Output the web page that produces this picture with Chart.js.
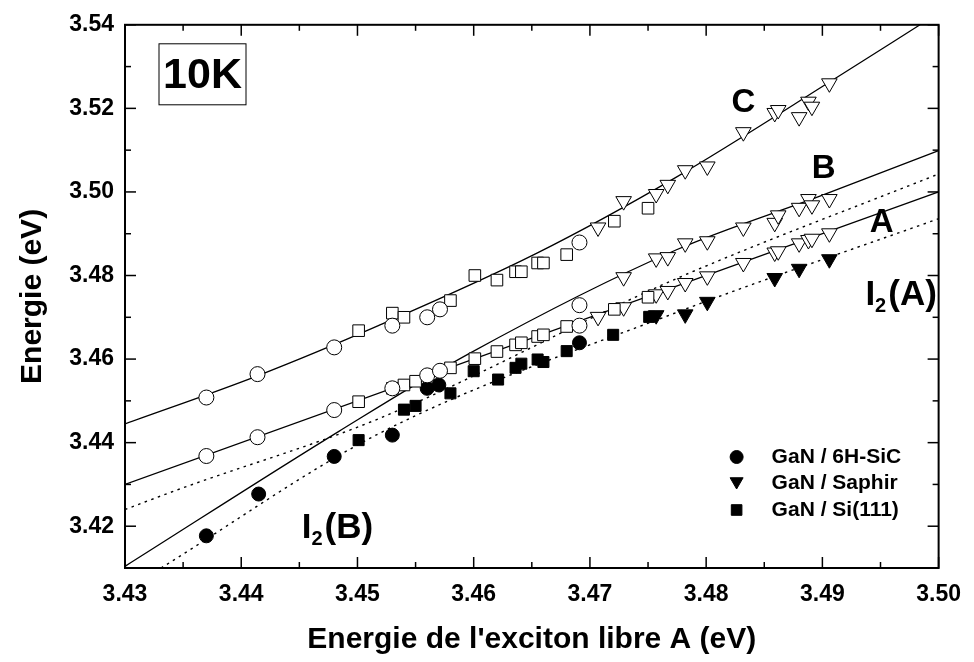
<!DOCTYPE html>
<html>
<head>
<meta charset="utf-8">
<script src="https://cdn.jsdelivr.net/npm/chart.js@4.4.1/dist/chart.umd.min.js"></script>
<style>
  html, body { margin: 0; padding: 0; background: #fff; }
  #wrap { width: 974px; height: 662px; }
</style>
</head>
<body>
<div id="wrap"><canvas id="excitonChart" width="974" height="662"></canvas></div>
<script>
// axis ticks
const xTicks = [3.43, 3.44, 3.45, 3.46, 3.47, 3.48, 3.49, 3.50];
const xMinorTicks = [3.435, 3.445, 3.455, 3.465, 3.475, 3.485, 3.495];
const yTicks = [3.42, 3.44, 3.46, 3.48, 3.50, 3.52, 3.54];
const yMinorTicks = [3.43, 3.45, 3.47, 3.49, 3.51, 3.53];

// free excitons, GaN / 6H-SiC (open circles)
const sicA_x = [3.4370, 3.4414, 3.4480, 3.4530, 3.4560, 3.4571, 3.4691];
const sicA_y = [3.4368, 3.4413, 3.4478, 3.4530, 3.4561, 3.4572, 3.4680];
const sicB_x = [3.4691];
const sicB_y = [3.4729];
const sicC_x = [3.4370, 3.4414, 3.4480, 3.4530, 3.4560, 3.4571, 3.4691];
const sicC_y = [3.4508, 3.4564, 3.4628, 3.4680, 3.4700, 3.4719, 3.4879];

// free excitons, GaN / Si(111) (open squares)
const siA_x = [3.4501, 3.4530, 3.4540, 3.4550, 3.4580, 3.4601, 3.4620, 3.4636, 3.4641, 3.4655, 3.4660, 3.4680, 3.4721, 3.4750];
const siA_y = [3.4498, 3.4530, 3.4538, 3.4547, 3.4579, 3.4601, 3.4618, 3.4634, 3.4639, 3.4654, 3.4658, 3.4678, 3.4719, 3.4748];
const siC_x = [3.4501, 3.4530, 3.4540, 3.4580, 3.4601, 3.4620, 3.4636, 3.4641, 3.4655, 3.4660, 3.4680, 3.4721, 3.4750];
const siC_y = [3.4668, 3.4710, 3.4700, 3.4740, 3.4800, 3.4789, 3.4809, 3.4809, 3.4830, 3.4830, 3.4850, 3.4930, 3.4961];

// free excitons, GaN / Saphir (open triangles)
const sapA_x = [3.4707, 3.4729, 3.4757, 3.4767, 3.4782, 3.4801, 3.4832, 3.4859, 3.4862, 3.4880, 3.4888, 3.4891, 3.4906];
const sapA_y = [3.4701, 3.4724, 3.4755, 3.4763, 3.4782, 3.4798, 3.4830, 3.4855, 3.4858, 3.4877, 3.4885, 3.4888, 3.4901];
const sapB_x = [3.4729, 3.4757, 3.4767, 3.4782, 3.4801, 3.4832, 3.4859, 3.4862, 3.4880, 3.4888, 3.4891, 3.4906];
const sapB_y = [3.4796, 3.4841, 3.4844, 3.4877, 3.4882, 3.4915, 3.4926, 3.4944, 3.4962, 3.4983, 3.4968, 3.4983];
const sapC_x = [3.4707, 3.4729, 3.4757, 3.4767, 3.4782, 3.4801, 3.4832, 3.4859, 3.4862, 3.4880, 3.4888, 3.4891, 3.4906];
const sapC_y = [3.4915, 3.4978, 3.4995, 3.5017, 3.5052, 3.5061, 3.5143, 3.5189, 3.5196, 3.5179, 3.5216, 3.5204, 3.5260];

// bound excitons I2 (filled)
const sicI2_x = [3.4370, 3.4415, 3.4480, 3.4530, 3.4560, 3.4570, 3.4691];
const sicI2_y = [3.4177, 3.4277, 3.4367, 3.4418, 3.4530, 3.4538, 3.4639];
const sapI2_x = [3.4757, 3.4782, 3.4801, 3.4859, 3.4880, 3.4906];
const sapI2_y = [3.4705, 3.4707, 3.4737, 3.4794, 3.4816, 3.4839];
const siI2_x = [3.4501, 3.4540, 3.4550, 3.4580, 3.4600, 3.4621, 3.4636, 3.4641, 3.4655, 3.4660, 3.4680, 3.4720, 3.4751];
const siI2_y = [3.4406, 3.4479, 3.4488, 3.4518, 3.4571, 3.4551, 3.4579, 3.4589, 3.4599, 3.4593, 3.4619, 3.4658, 3.4701];

// fitted curves
const fitA_x = [3.4300, 3.5000];
const fitA_y = [3.4300, 3.5000];
const fitB_x = [3.4300, 3.4484, 3.4596, 3.4774, 3.4899, 3.5000];
const fitB_y = [3.4104, 3.4427, 3.4613, 3.4861, 3.4991, 3.5099];
const fitC_x = [3.4300, 3.4414, 3.4518, 3.4654, 3.4774, 3.4913, 3.4984];
const fitC_y = [3.4445, 3.4560, 3.4680, 3.4853, 3.5035, 3.5275, 3.5400];
const fitI2B_x = [3.4300, 3.4347, 3.4518, 3.4774, 3.5000];
const fitI2B_y = [3.4240, 3.4289, 3.4457, 3.4792, 3.5043];
const fitI2A_x = [3.4331, 3.4518, 3.4774, 3.5000];
const fitI2A_y = [3.4100, 3.4421, 3.4711, 3.4936];

const FONT = '"Liberation Sans", Arial, Helvetica, sans-serif';

function pts(xs, ys) {
    return xs.map((v, i) => ({ x: v, y: ys[i] }));
}

function openSet(xs, ys, style, r) {
    return {
        data: pts(xs, ys),
        pointStyle: style,
        rotation: style === 'triangle' ? 180 : 0,
        pointRadius: r,
        pointHoverRadius: r,
        backgroundColor: '#fff',
        borderColor: '#000',
        borderWidth: 1,
        showLine: false,
        order: 1
    };
}

function filledSet(xs, ys, style, r) {
    return {
        data: pts(xs, ys),
        pointStyle: style,
        rotation: style === 'triangle' ? 180 : 0,
        pointRadius: r,
        pointHoverRadius: r,
        backgroundColor: '#000',
        borderColor: '#000',
        borderWidth: 1,
        showLine: false,
        order: 2
    };
}

function fitSet(xs, ys, dashed) {
    return {
        data: pts(xs, ys),
        showLine: true,
        pointRadius: 0,
        pointHoverRadius: 0,
        borderColor: '#000',
        borderWidth: dashed ? 1.4 : 1.3,
        borderDash: dashed ? [2.5, 4.5] : [],
        cubicInterpolationMode: 'monotone',
        fill: false,
        order: 3
    };
}

const frame = {
    id: 'frame',
    afterDatasetsDraw(chart) {
        const { ctx, chartArea: a, scales: { x, y } } = chart;
        ctx.save();
        ctx.strokeStyle = '#000';
        ctx.lineWidth = 1.5;
        const tick = (x1, y1, x2, y2) => {
            ctx.beginPath();
            ctx.moveTo(x1, y1);
            ctx.lineTo(x2, y2);
            ctx.stroke();
        };
        xTicks.forEach(v => {
            const px = x.getPixelForValue(v);
            tick(px, a.bottom, px, a.bottom - 11);
            tick(px, a.top, px, a.top + 11);
        });
        xMinorTicks.forEach(v => {
            const px = x.getPixelForValue(v);
            tick(px, a.bottom, px, a.bottom - 6);
            tick(px, a.top, px, a.top + 6);
        });
        yTicks.forEach(v => {
            const py = y.getPixelForValue(v);
            tick(a.left, py, a.left + 11, py);
            tick(a.right, py, a.right - 11, py);
        });
        yMinorTicks.forEach(v => {
            const py = y.getPixelForValue(v);
            tick(a.left, py, a.left + 6, py);
            tick(a.right, py, a.right - 6, py);
        });
        ctx.lineWidth = 2;
        ctx.strokeRect(a.left, a.top, a.right - a.left, a.bottom - a.top);

        // 10K box
        ctx.lineWidth = 1;
        ctx.strokeRect(a.left + 34, a.top + 19, 87, 61);
        ctx.fillStyle = '#000';
        ctx.textAlign = 'center';
        ctx.textBaseline = 'middle';
        ctx.font = 'bold 43px ' + FONT;
        ctx.fillText('10K', a.left + 77.5, a.top + 51);

        // curve labels
        ctx.font = 'bold 33px ' + FONT;
        ctx.fillText('C', x.getPixelForValue(3.4832), y.getPixelForValue(3.5212));
        ctx.fillText('B', x.getPixelForValue(3.4901), y.getPixelForValue(3.5054));
        ctx.fillText('A', x.getPixelForValue(3.4951), y.getPixelForValue(3.4927));

        const i2Label = (txt, vx, vy) => {
            let px = x.getPixelForValue(vx);
            const py = y.getPixelForValue(vy);
            ctx.textAlign = 'left';
            ctx.textBaseline = 'alphabetic';
            ctx.font = 'bold 35px ' + FONT;
            ctx.fillText('I', px, py);
            px += ctx.measureText('I').width;
            ctx.font = 'bold 20px ' + FONT;
            ctx.fillText('2', px, py + 7);
            px += ctx.measureText('2').width + 2;
            ctx.font = 'bold 35px ' + FONT;
            ctx.fillText(txt, px, py);
        };
        i2Label('(A)', 3.4937, 3.4730);
        i2Label('(B)', 3.4452, 3.4172);

        // legend
        const entries = [
            ['circle', 0, 6.5, 'GaN / 6H-SiC'],
            ['triangle', 180, 7.5, 'GaN / Saphir'],
            ['rect', 0, 7.5, 'GaN / Si(111)']
        ];
        ctx.font = 'bold 21px ' + FONT;
        ctx.textAlign = 'left';
        ctx.textBaseline = 'middle';
        entries.forEach((e, i) => {
            const mx = a.right - 202;
            const my = a.bottom - 111 + i * 26.5;
            ctx.fillStyle = '#000';
            ctx.strokeStyle = '#000';
            ctx.lineWidth = 1;
            Chart.helpers.drawPoint(ctx, { pointStyle: e[0], rotation: e[1], radius: e[2], borderWidth: 1 }, mx, my + (e[0] === 'triangle' ? -2 : 0));
            ctx.fillText(e[3], a.right - 167, my);
        });
        ctx.restore();
    }
};

const ctx = document.getElementById('excitonChart').getContext('2d');
const excitonChart = new Chart(ctx, {
    type: 'scatter',
    data: {
        datasets: [
            openSet(sicA_x, sicA_y, 'circle', 7.5),
            openSet(sicB_x, sicB_y, 'circle', 7.5),
            openSet(sicC_x, sicC_y, 'circle', 7.5),
            openSet(siA_x, siA_y, 'rect', 8.2),
            openSet(siC_x, siC_y, 'rect', 8.2),
            openSet(sapA_x, sapA_y, 'triangle', 9),
            openSet(sapB_x, sapB_y, 'triangle', 9),
            openSet(sapC_x, sapC_y, 'triangle', 9),
            filledSet(sicI2_x, sicI2_y, 'circle', 7),
            filledSet(sapI2_x, sapI2_y, 'triangle', 9),
            filledSet(siI2_x, siI2_y, 'rect', 7.8),
            fitSet(fitA_x, fitA_y, false),
            fitSet(fitB_x, fitB_y, false),
            fitSet(fitC_x, fitC_y, false),
            fitSet(fitI2B_x, fitI2B_y, true),
            fitSet(fitI2A_x, fitI2A_y, true)
        ]
    },
    options: {
        responsive: false,
        animation: false,
        devicePixelRatio: 1,
        layout: { padding: { top: 19, right: 29, left: 0, bottom: 0 } },
        plugins: {
            legend: { display: false },
            tooltip: { enabled: false }
        },
        scales: {
            x: {
                type: 'linear',
                min: 3.43,
                max: 3.50,
                afterBuildTicks: scale => { scale.ticks = xTicks.map(v => ({ value: v })); },
                afterFit: scale => { scale.height = 94; },
                grid: { display: false, drawTicks: false },
                border: { display: false },
                ticks: {
                    padding: 13,
                    color: '#000',
                    font: { family: FONT, size: 23, weight: 'bold' },
                    callback: v => v.toFixed(2)
                },
                title: {
                    display: true,
                    text: "Energie de l'exciton libre A (eV)",
                    color: '#000',
                    font: { family: FONT, size: 30, weight: 'bold' },
                    padding: { top: 0, bottom: 4 }
                }
            },
            y: {
                type: 'linear',
                min: 3.41,
                max: 3.54,
                afterBuildTicks: scale => { scale.ticks = yTicks.map(v => ({ value: v })); },
                afterFit: scale => { scale.width = 125; },
                grid: { display: false, drawTicks: false },
                border: { display: false },
                ticks: {
                    padding: 11,
                    color: '#000',
                    font: { family: FONT, size: 23, weight: 'bold' },
                    callback: v => v.toFixed(2)
                },
                title: {
                    display: true,
                    text: 'Energie (eV)',
                    color: '#000',
                    font: { family: FONT, size: 30, weight: 'bold' },
                    padding: { top: 15, bottom: 0 }
                }
            }
        }
    },
    plugins: [frame]
});
</script>
</body>
</html>
